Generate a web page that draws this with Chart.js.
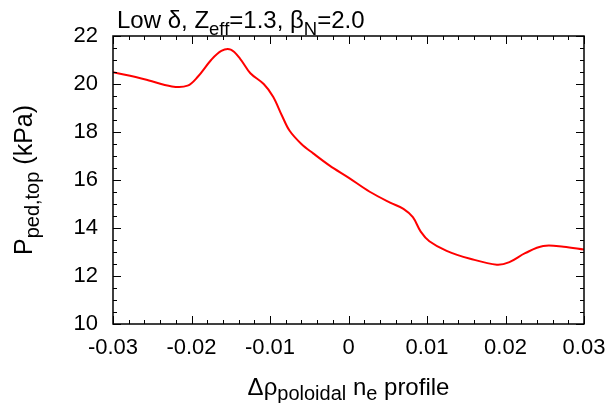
<!DOCTYPE html>
<html>
<head>
<meta charset="utf-8">
<script src="https://cdn.jsdelivr.net/npm/chart.js"></script>
<style>
  html, body { margin: 0; padding: 0; background: #fff; }
  #wrap { width: 612px; height: 403px; }
</style>
</head>
<body>
<div id="wrap"><canvas id="chart" width="612" height="403"></canvas></div>
<script>
// values
const xValues = [-0.03, -0.026, -0.0225, -0.0205, -0.0192, -0.0175, -0.0162, -0.0150,
  -0.0138, -0.0125, -0.0108, -0.0096, -0.0085, -0.0075, -0.006, -0.0045,
  -0.0024, 0, 0.0027, 0.0053, 0.0070, 0.0082, 0.0092, 0.0103, 0.0125, 0.0155,
  0.0189, 0.0205, 0.0225, 0.0248, 0.0274, 0.03];
const pressure = [20.49, 20.2, 19.9, 19.93, 20.3, 21.0, 21.38, 21.43,
  21.05, 20.45, 20.0, 19.47, 18.7, 18.05, 17.5, 17.11,
  16.6, 16.1, 15.51, 15.06, 14.8, 14.45, 13.85, 13.45, 13.05, 12.72,
  12.47, 12.58, 12.95, 13.25, 13.22, 13.1];
const xTicks = [-0.03, -0.02, -0.01, 0, 0.01, 0.02, 0.03];
const yTicks = [10, 12, 14, 16, 18, 20, 22];

const FONT = "Liberation Sans, Arial, sans-serif";

// draw text made of normal / subscript pieces, returns width
function richText(ctx, parts, x, y, size, subSize, subShift, measureOnly) {
  let w = 0;
  parts.forEach(p => {
    ctx.font = (p.sub ? subSize : size) + "px " + FONT;
    if (!measureOnly) ctx.fillText(p.t, x + w, y + (p.sub ? subShift : 0));
    w += ctx.measureText(p.t).width;
  });
  return w;
}

const frame = {
  id: "frame",
  afterDraw(chart) {
    const ctx = chart.ctx;
    const a = chart.chartArea;
    const xs = chart.scales.x, ys = chart.scales.y;
    ctx.save();
    ctx.strokeStyle = "#000";
    ctx.lineWidth = 1.5;
    ctx.strokeRect(a.left, a.top, a.right - a.left, a.bottom - a.top);

    // inward ticks on all four sides
    ctx.lineWidth = 1;
    ctx.beginPath();
    for (let i = 0; i <= 30; i++) {
      const v = -0.03 + i * 0.002;
      const px = Math.round(xs.getPixelForValue(v)) + 0.5;
      const len = i % 5 === 0 ? 8 : 4;
      ctx.moveTo(px, a.bottom); ctx.lineTo(px, a.bottom - len);
      ctx.moveTo(px, a.top); ctx.lineTo(px, a.top + len);
    }
    for (let i = 0; i <= 24; i++) {
      const v = 10 + i * 0.5;
      const py = Math.round(ys.getPixelForValue(v)) + 0.5;
      const len = i % 4 === 0 ? 8 : 4;
      ctx.moveTo(a.left, py); ctx.lineTo(a.left + len, py);
      ctx.moveTo(a.right, py); ctx.lineTo(a.right - len, py);
    }
    ctx.stroke();

    ctx.fillStyle = "#000";
    ctx.textBaseline = "alphabetic";
    ctx.textAlign = "left";

    // title
    richText(ctx, [
      { t: "Low δ, Z" }, { t: "eff", sub: true }, { t: "=1.3, β" }, { t: "N", sub: true }, { t: "=2.0" }
    ], 117, 28, 24, 18.5, 7);

    // x axis title
    const xParts = [{ t: "Δρ" }, { t: "poloidal", sub: true }, { t: " n" }, { t: "e", sub: true }, { t: " profile" }];
    const xw = richText(ctx, xParts, 0, 0, 24, 20, 5, true);
    richText(ctx, xParts, (a.left + a.right) / 2 - xw / 2, 395, 24, 20, 5);

    // y axis title
    const yParts = [{ t: "P" }, { t: "ped,top", sub: true }, { t: " (kPa)" }];
    const yw = richText(ctx, yParts, 0, 0, 25, 20, 7, true);
    ctx.translate(32, (a.top + a.bottom) / 2);
    ctx.rotate(-Math.PI / 2);
    richText(ctx, yParts, -yw / 2, 0, 25, 20, 7);
    ctx.restore();
  }
};

new Chart(document.getElementById("chart"), {
  type: "line",
  data: {
    datasets: [{
      data: xValues.map((x, i) => ({ x: x, y: pressure[i] })),
      borderColor: "#ff0000",
      borderWidth: 2,
      pointRadius: 0,
      tension: 0.35,
      fill: false
    }]
  },
  options: {
    responsive: false,
    animation: false,
    layout: { padding: { top: 36, right: 28, left: 0, bottom: 0 } },
    plugins: { legend: { display: false }, tooltip: { enabled: false } },
    scales: {
      x: {
        type: "linear",
        min: -0.03, max: 0.03,
        afterBuildTicks: s => { s.ticks = xTicks.map(v => ({ value: v })); },
        afterFit: s => { s.height = 79; s.paddingLeft = 0; s.paddingRight = 0; },
        grid: { display: false, drawTicks: false },
        border: { display: false },
        ticks: {
          padding: 11,
          color: "#000",
          font: { family: FONT, size: 22 },
          maxRotation: 0,
          callback: v => v === 0 ? "0" : String(Math.round(v * 100) / 100)
        }
      },
      y: {
        min: 10, max: 22,
        afterBuildTicks: s => { s.ticks = yTicks.map(v => ({ value: v })); },
        afterFit: s => { s.width = 113; s.paddingTop = 0; s.paddingBottom = 0; },
        grid: { display: false, drawTicks: false },
        border: { display: false },
        ticks: {
          padding: 15,
          color: "#000",
          font: { family: FONT, size: 22 }
        }
      }
    }
  },
  plugins: [frame]
});
</script>
</body>
</html>
